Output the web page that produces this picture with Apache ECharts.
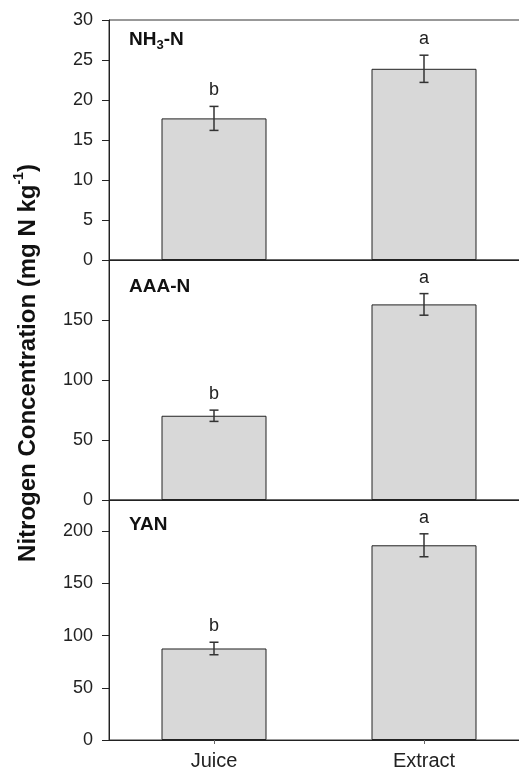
<!DOCTYPE html>
<html>
<head>
<meta charset="utf-8">
<script src="https://cdn.jsdelivr.net/npm/echarts@6/dist/echarts.min.js"></script>
<style>html,body{margin:0;padding:0;background:#fff;}#c{width:519px;height:772px;}</style>
</head>
<body>
<div id="c"></div>
<script>
var categories = ['Juice', 'Extract'];
var nh3Values = [17.7, 23.9];
var nh3Errors = [1.5, 1.7];
var aaaValues = [70.2, 163];
var aaaErrors = [4.7, 9];
var yanValues = [87.7, 186.6];
var yanErrors = [6, 11];
var letters = ['b', 'a'];
var panelNames = ['NH{s|3}-N', 'AAA-N', 'YAN'];
var yMax = [30, 200, 230];
var yInterval = [5, 50, 50];

var FONT = '"Liberation Sans", Arial, sans-serif';
var values = [nh3Values, aaaValues, yanValues];
var errors = [nh3Errors, aaaErrors, yanErrors];
var tops = [20, 260, 500];
var titleTops = [23, 270, 508];

var grids = [], xAxes = [], yAxes = [], series = [], titles = [];
for (var i = 0; i < 3; i++) {
  grids.push({left: 109, top: tops[i], height: 240, width: 420, outerBoundsMode: 'none', containLabel: false,
    show: true, borderColor: '#333', borderWidth: 1, backgroundColor: 'transparent'});
  var last = (i === 2);
  xAxes.push({
    type: 'category', gridIndex: i, data: categories,
    axisLine: {show: true, lineStyle: {color: '#222', width: 1}},
    axisTick: {show: last, alignWithLabel: true, length: 4, lineStyle: {color: '#666'}},
    axisLabel: {show: last, fontFamily: FONT, fontSize: 20, color: '#222', margin: 11},
    splitLine: {show: false}
  });
  yAxes.push({
    type: 'value', gridIndex: i, min: 0, max: yMax[i], interval: yInterval[i],
    axisLine: {show: true, lineStyle: {color: '#222', width: 1}},
    axisTick: {show: true, inside: false, length: 7, lineStyle: {color: '#222'}},
    axisLabel: {fontFamily: FONT, fontSize: 18, color: '#222', margin: 16, showMaxLabel: i === 0},
    splitLine: {show: false}
  });
  series.push({
    type: 'bar', xAxisIndex: i, yAxisIndex: i, data: values[i], barWidth: 105,
    itemStyle: {color: '#d8d8d8', borderColor: '#222', borderWidth: 1},
    silent: true, animation: false
  });
  var ed = [];
  for (var j = 0; j < categories.length; j++) ed.push([j, values[i][j], errors[i][j]]);
  series.push({
    type: 'custom', xAxisIndex: i, yAxisIndex: i, data: ed, encode: {x: 0, y: 1},
    animation: false, silent: true, clip: false, z: 5,
    renderItem: function (params, api) {
      var x = api.value(0), y = api.value(1), e = api.value(2);
      var t = api.coord([x, y + e]), b = api.coord([x, y - e]);
      var hw = 4.5, st = {stroke: '#333', lineWidth: 1.5};
      return {type: 'group', children: [
        {type: 'line', shape: {x1: t[0], y1: t[1], x2: b[0], y2: b[1]}, style: st},
        {type: 'line', shape: {x1: t[0] - hw, y1: t[1], x2: t[0] + hw, y2: t[1]}, style: st},
        {type: 'line', shape: {x1: b[0] - hw, y1: b[1], x2: b[0] + hw, y2: b[1]}, style: st},
        {type: 'text', x: t[0], y: t[1] - 16, style: {text: letters[params.dataIndex], align: 'center', verticalAlign: 'middle', font: '18px ' + FONT, fill: '#222'}}
      ]};
    }
  });
  titles.push({
    text: panelNames[i], left: 124, top: titleTops[i],
    textStyle: {fontFamily: FONT, fontSize: 19, fontWeight: 'bold', color: '#111', lineHeight: 24,
      rich: {s: {fontFamily: FONT, fontSize: 13, fontWeight: 'bold', color: '#111', lineHeight: 14, verticalAlign: 'bottom'}}}
  });
}

var chart = echarts.init(document.getElementById('c'));
chart.setOption({
  animation: false,
  title: titles,
  grid: grids, xAxis: xAxes, yAxis: yAxes, series: series,
  graphic: [{
    type: 'text', x: 28, y: 363, rotation: Math.PI / 2,
    style: {
      text: 'Nitrogen Concentration (mg N kg{sup|-1})',
      align: 'center', verticalAlign: 'middle',
      fontFamily: FONT, fontSize: 24, fontWeight: 'bold', fill: '#111', lineHeight: 32,
      rich: {sup: {fontFamily: FONT, fontSize: 14, fontWeight: 'bold', fill: '#111', lineHeight: 16, verticalAlign: 'top'}}
    }
  }]
});
</script>
</body>
</html>
